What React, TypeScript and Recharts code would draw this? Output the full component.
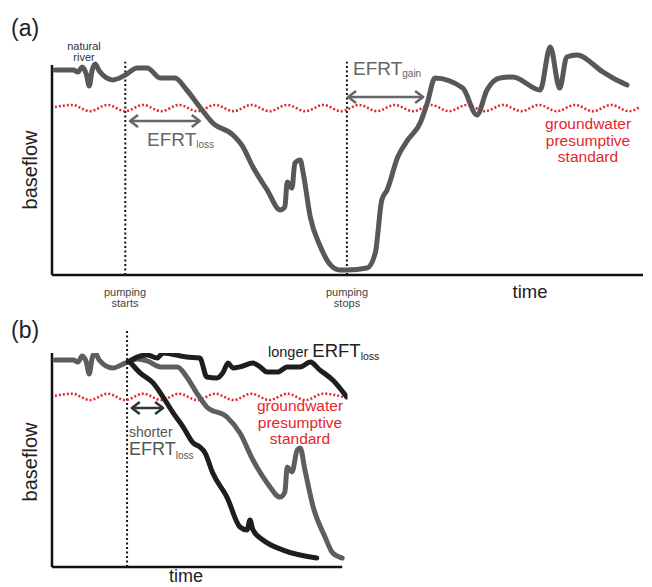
import React from 'react';
import { LineChart, Line, XAxis, YAxis, ReferenceLine } from 'recharts';

// panel (a): baseflow through one pumping cycle
const timeA = [0.5, 3.6, 4.4, 5.1, 5.8, 6.3, 6.8, 7.3, 8.0, 10.3, 12.4, 14.4, 16.1, 18.3, 20.8, 22.8, 25.0, 27.2, 30.6, 32.3, 34.0, 36.4, 38.6, 39.4, 39.8, 40.6, 41.1, 42.0, 42.5, 43.7, 45.3, 47.0, 48.7, 49.9, 53.3, 54.7, 55.8, 56.7, 58.5, 60.2, 62.3, 63.5, 64.8, 69.5, 71.9, 73.6, 75.8, 78.0, 82.6, 84.3, 85.9, 87.1, 88.8, 93.2, 94.9, 97.3];
const flowA = [97.6, 97.6, 96.7, 99.0, 95.7, 90.0, 97.6, 100.5, 97.1, 92.9, 95.2, 98.6, 98.6, 93.8, 93.8, 88.1, 80.0, 72.4, 66.7, 61.0, 51.4, 40.5, 31.0, 32.4, 44.3, 41.4, 53.3, 54.8, 48.6, 27.6, 14.3, 5.2, 2.4, 2.4, 3.3, 10.5, 35.7, 40.5, 56.2, 64.3, 72.4, 81.9, 93.8, 89.0, 76.2, 88.1, 93.8, 94.3, 88.1, 108.6, 89.0, 103.8, 104.8, 96.7, 93.8, 90.5];

// groundwater presumptive standard (wavy threshold)
const stdTimeA = [0.5, 3.4, 6.4, 9.4, 12.4, 15.4, 18.5, 21.5, 24.6, 27.6, 30.7, 33.7, 36.8, 39.8, 42.9, 45.9, 48.9, 52.0, 55.0, 58.0, 61.1, 64.1, 67.2, 70.2, 73.3, 76.3, 79.4, 82.4, 85.4, 88.5, 91.5, 94.6, 97.6, 99.5];
const stdFlowA = [80, 81, 78, 81, 78, 81, 78, 81, 78, 81, 78, 81, 78, 81, 78, 81, 78, 81, 78, 81, 78, 81, 78, 81, 78, 81, 78, 81, 78, 81, 78, 81, 78, 80];

// panel (b)
const timeGrey = [0.5, 3.6, 4.4, 5.1, 5.8, 6.3, 6.8, 7.3, 8.0, 10.3, 12.4, 14.4, 16.1, 18.3, 21.2, 22.8, 24.5, 26.2, 29.6, 31.8, 34.0, 36.4, 38.6, 39.4, 39.8, 40.6, 41.5, 42.0, 42.8, 44.2, 46.2, 47.5, 49.1];
const flowGrey = [96.7, 96.7, 95.8, 98.6, 95.8, 90.2, 97.7, 100.0, 96.7, 93.0, 95.3, 97.2, 96.3, 93.5, 93.5, 88.8, 81.3, 74.8, 70.1, 62.6, 50.0, 39.3, 32.7, 35.0, 46.7, 44.4, 54.7, 55.6, 45.3, 28.0, 14.0, 6.5, 4.2];
const timeShort = [13.2, 14.9, 17.1, 18.8, 20.5, 22.2, 23.9, 25.0, 25.9, 27.2, 29.6, 31.8, 33.0, 33.5, 34.0, 35.7, 39.1, 44.8];
const flowShort = [95.8, 90.7, 86.0, 79.4, 72.0, 65.4, 57.9, 56.1, 53.3, 43.9, 32.7, 18.7, 17.3, 22.0, 17.3, 12.6, 7.9, 4.2];
const timeLong = [12.9, 14.4, 16.1, 17.8, 18.8, 22.8, 25.0, 26.2, 27.9, 28.9, 29.8, 30.6, 31.8, 34.0, 35.2, 36.4, 38.2, 39.8, 42.0, 43.7, 45.3, 47.5, 49.9];
const flowLong = [95.8, 98.1, 99.1, 97.7, 100.0, 98.1, 97.7, 88.8, 88.3, 90.7, 95.3, 93.0, 93.5, 95.3, 93.5, 91.1, 91.1, 93.5, 93.5, 95.8, 92.1, 87.4, 79.4];
const stdTimeB = [0.5, 3.4, 6.4, 9.4, 12.4, 15.4, 18.5, 21.5, 24.6, 27.6, 30.7, 33.7, 36.8, 39.8, 42.9, 45.9, 49.9];
const stdFlowB = [80, 81, 78, 81, 78, 81, 78, 81, 78, 81, 78, 81, 78, 81, 78, 81, 79];

const pumpStart = 12.4;
const pumpStop = 49.9;

const zip = (t: number[], v: number[]) => t.map((x, i) => ({ t: x, v: v[i] }));

const FONT = '"Liberation Sans", Arial, sans-serif';

const Arrow = (props: any) => {
  const { x1, y1, x2, y2, stroke } = props;
  const a = Math.min(x1, x2);
  const b = Math.max(x1, x2);
  const h = 8;
  return (
    <g fill="none" stroke={stroke} strokeWidth={2.5} strokeLinejoin="round">
      <line x1={a + 1} y1={y1} x2={b - 1} y2={y2} />
      <polyline points={`${a + h},${y1 - h * 0.75} ${a},${y1} ${a + h},${y1 + h * 0.75}`} />
      <polyline points={`${b - h},${y2 - h * 0.75} ${b},${y2} ${b - h},${y2 + h * 0.75}`} />
    </g>
  );
};

const axisProps = { stroke: '#111', strokeWidth: 2.5, ifOverflow: 'visible' as const };
const dotted = { stroke: '#111', strokeWidth: 2, strokeDasharray: '2 2.5', ifOverflow: 'visible' as const };

export default function App() {
  return (
    <div style={{ position: 'absolute', left: 0, top: 0, width: 652, height: 587, background: '#fff' }}>
      <div style={{ position: 'absolute', left: 0, top: 0 }}>
        <LineChart width={652} height={300} margin={{ top: 44, right: 9, bottom: 25, left: 52 }}>
          <XAxis dataKey="t" type="number" domain={[0, 100]} allowDataOverflow hide />
          <YAxis type="number" domain={[0, 110]} allowDataOverflow hide />
          <ReferenceLine segment={[{ x: 0, y: 0 }, { x: 0, y: 100 }]} {...axisProps} />
          <ReferenceLine segment={[{ x: 0, y: 0 }, { x: 100, y: 0 }]} {...axisProps} />
          <ReferenceLine segment={[{ x: pumpStart, y: 0 }, { x: pumpStart, y: 101.5 }]} {...dotted} />
          <ReferenceLine segment={[{ x: pumpStop, y: 0 }, { x: pumpStop, y: 101.5 }]} {...dotted} />
          <Line data={zip(stdTimeA, stdFlowA)} dataKey="v" type="monotone" stroke="#e3262b" strokeWidth={2.5} strokeDasharray="2 2" dot={false} isAnimationActive={false} />
          <Line data={zip(timeA, flowA)} dataKey="v" type="monotone" stroke="#58585a" strokeWidth={5} strokeLinecap="round" strokeLinejoin="round" dot={false} isAnimationActive={false} />
          <ReferenceLine segment={[{ x: 13.2, y: 73.3 }, { x: 25.0, y: 73.3 }]} stroke="#666" ifOverflow="visible" shape={Arrow} />
          <ReferenceLine segment={[{ x: 50.1, y: 84.8 }, { x: 62.8, y: 84.8 }]} stroke="#666" ifOverflow="visible" shape={Arrow} />
        </LineChart>
      </div>
      <div style={{ position: 'absolute', left: 0, top: 300 }}>
        <LineChart width={652} height={287} margin={{ top: 53, right: 304.5, bottom: 20, left: 52 }}>
          <XAxis dataKey="t" type="number" domain={[0, 50]} allowDataOverflow hide />
          <YAxis type="number" domain={[0, 100]} allowDataOverflow hide />
          <ReferenceLine segment={[{ x: 0, y: 0 }, { x: 0, y: 100 }]} {...axisProps} />
          <ReferenceLine segment={[{ x: 0, y: 0 }, { x: 49.1, y: 0 }]} {...axisProps} />
          <ReferenceLine segment={[{ x: 12.7, y: 0 }, { x: 12.7, y: 110.7 }]} {...dotted} />
          <Line data={zip(stdTimeB, stdFlowB)} dataKey="v" type="monotone" stroke="#e3262b" strokeWidth={2.5} strokeDasharray="2 2" dot={false} isAnimationActive={false} />
          <Line data={zip(timeGrey, flowGrey)} dataKey="v" type="monotone" stroke="#5e5e60" strokeWidth={5} strokeLinecap="round" strokeLinejoin="round" dot={false} isAnimationActive={false} />
          <Line data={zip(timeShort, flowShort)} dataKey="v" type="monotone" stroke="#1e1e1e" strokeWidth={5} strokeLinecap="round" strokeLinejoin="round" dot={false} isAnimationActive={false} />
          <Line data={zip(timeLong, flowLong)} dataKey="v" type="monotone" stroke="#1e1e1e" strokeWidth={5} strokeLinecap="round" strokeLinejoin="round" dot={false} isAnimationActive={false} />
          <ReferenceLine segment={[{ x: 13.5, y: 74.3 }, { x: 18.8, y: 74.3 }]} stroke="#333" ifOverflow="visible" shape={Arrow} />
        </LineChart>
      </div>
      <svg width={652} height={587} style={{ position: 'absolute', left: 0, top: 0, pointerEvents: 'none' }} fontFamily={FONT}>
        <text x={11} y={36} fontSize={23} fill="#222">(a)</text>
        <text x={84} y={50} fontSize={11} fill="#333" textAnchor="middle">natural</text>
        <text x={84} y={61} fontSize={11} fill="#333" textAnchor="middle">river</text>
        <text transform="translate(37,170) rotate(-90)" fontSize={20} fill="#222" textAnchor="middle">baseflow</text>
        <text x={147} y={146} fontSize={19} fill="#666">EFRT<tspan fontSize={10} dy={2}>loss</tspan></text>
        <text x={353} y={75} fontSize={19} fill="#666">EFRT<tspan fontSize={10} dy={2}>gain</tspan></text>
        <g fill="#e3262b" fontSize={15.5} textAnchor="middle">
          <text x={588} y={129}>groundwater</text>
          <text x={588} y={146}>presumptive</text>
          <text x={588} y={162}>standard</text>
        </g>
        <g fill="#444" fontSize={11} textAnchor="middle">
          <text x={125} y={296}>pumping</text>
          <text x={125} y={307}>starts</text>
          <text x={347} y={296}>pumping</text>
          <text x={347} y={307}>stops</text>
        </g>
        <text x={530} y={298} fontSize={18.5} fill="#222" textAnchor="middle">time</text>

        <text x={11} y={338} fontSize={23} fill="#222">(b)</text>
        <text x={268} y={357} fontSize={14.5} fill="#222">longer <tspan fontSize={18.5}>ERFT</tspan><tspan fontSize={10.5} dy={3}>loss</tspan></text>
        <g fill="#e3262b" fontSize={15.5} textAnchor="middle">
          <text x={300} y={411}>groundwater</text>
          <text x={300} y={428}>presumptive</text>
          <text x={300} y={444}>standard</text>
        </g>
        <text x={129} y={437} fontSize={14} fill="#555">shorter</text>
        <text x={129} y={455} fontSize={18} fill="#555">EFRT<tspan fontSize={10} dy={4}>loss</tspan></text>
        <text transform="translate(37,462) rotate(-90)" fontSize={20} fill="#222" textAnchor="middle">baseflow</text>
        <text x={186} y={582} fontSize={18} fill="#222" textAnchor="middle">time</text>
      </svg>
    </div>
  );
}
